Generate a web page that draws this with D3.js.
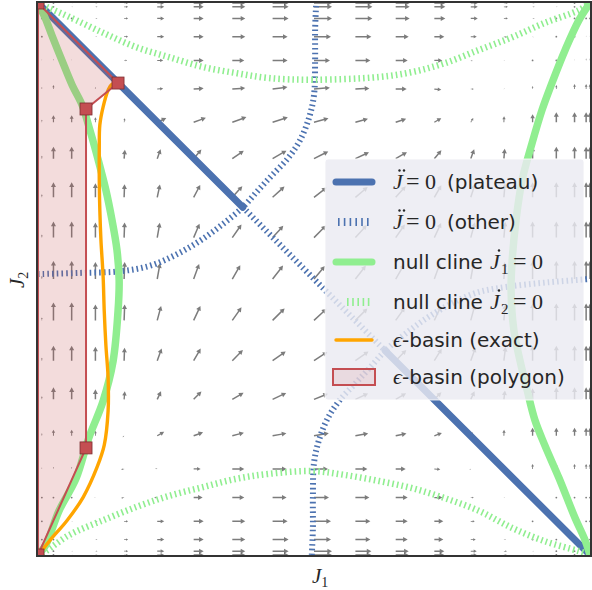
<!DOCTYPE html>
<html>
<head>
<meta charset="utf-8">
<script src="https://cdn.jsdelivr.net/npm/d3@7"></script>
<style>
  html, body { margin: 0; padding: 0; background: #fff; }
  svg { display: block; }
</style>
</head>
<body>
<svg id="chart" width="592" height="590"></svg>
<script>
// ---- data -------------------------------------------------------------
// sample positions of the direction field (same set for J1 and J2)
const gridJ = [0, 0.007, 0.028, 0.061, 0.104, 0.156, 0.216, 0.282, 0.352, 0.425, 0.5,
               0.575, 0.648, 0.718, 0.784, 0.844, 0.896, 0.939, 0.972, 0.993, 1];

// arrow lengths (px) of the direction field, rows from J2 = 1 down to J2 = 0
const arrowLen = [
  [0,0,0.5,1,2,4,7,10,13,16,18,17,14,11,7,4,2,1,0.5,0,0],
  [0,0,0.5,1,2,4,7,10,13,16,18,17,14,11,7,4,2,1,0.5,0,0],
  [0,0,0.3,0.5,2,4,7,10,13,16,18,17,14,11,7,4,2,0.5,0,0,0],
  [0.5,0.5,1,0.5,1.5,4,7,10,13,15,17,16,13,10,6,3,1,0.5,0.5,1,1],
  [1,1,1.5,1,0.5,3,6,10,12,15,16,15,12,8,2,1,0.5,0.5,1,2,2],
  [2,2,4,3,2,0.5,6,10,13,15,16,14,11,7,3,1,3,4,5,5,5],
  [2.5,2.5,7,7,5,4,10,13,15,16,15,13,11,8,5,6,8,10,10,10,10],
  [3,3,12,12,11,9,10,12,14,16,16,15,13,11,10,10,12,12,12,12,12],
  [3,3,15,15,14,13,13,14,15,16,16,16,15,14,14,14,15,15,15,15,15],
  [3,3,16,16,15,15,15,15,16,16,17,17,16,16,16,16,16,16,16,16,16],
  [3,3,18,18,17,17,16,16,16,17,17,17,17,17,17,17,18,18,18,18,18],
  [3,3,18,18,16,16,15,16,16,17,17,17,16,16,16,16,17,17,17,17,17],
  [3,3,15,15,14,13,13,14,15,16,16,16,15,14,14,14,15,15,15,15,15],
  [3,3,12,12,10,8,9,11,13,15,15,14,12,10,9,9,11,12,12,12,12],
  [2.5,2.5,6,6,5,2,8,10,12,14,15,13,11,8,4,6,8,8,8,8,8],
  [1.5,1.5,2,2,1,3,2,7,12,14,14,12,10,6,1.5,4,5,5,5,5,5],
  [0.5,0.5,0.5,0.5,1,3,3,9,12,14,15,14,12,8,3,1,0.5,0.5,0.5,0.5,0.5],
  [0,0,0.5,1,2,4,7,10,13,15,17,15,12,9,4,1,0.5,0,0,0,0],
  [0,0,0.5,1,2,4,7,10,13,16,17,15,12,9,5,2,0.5,0,0,0,0],
  [0,0,0.5,1,2,4,7,10,13,16,18,16,13,10,6,3,1,0.5,0,0,0],
  [0,0,0.5,1,2,4,7,10,13,16,18,16,13,10,6,3,1,0.5,0,0,0]
];

// arrow directions (degrees, counter-clockwise from +J1), same row order
const arrowDir = [
  [0,0,0,0,0,0,0,0,0,0,0,0,0,0,0,0,0,0,0,0,0],
  [0,0,0,0,0,0,0,0,0,0,0,0,0,0,0,0,0,0,0,0,0],
  [0,0,0,0,0,0,0,0,0,0,0,0,0,0,0,0,0,0,0,0,0],
  [90,90,90,90,0,0,0,0,0,0,0,0,0,0,0,-10,-30,0,90,90,90],
  [90,90,90,90,0,0,0,0,0,0,0,0,0,0,-20,-40,0,90,90,90,90],
  [90,90,90,90,90,45,5,5,5,8,5,3,0,-5,0,60,90,90,90,90,90],
  [90,90,90,90,90,80,25,20,20,18,15,15,18,30,60,88,90,90,90,90,90],
  [90,90,90,90,90,85,70,50,35,30,27,25,30,50,70,85,90,90,90,90,90],
  [90,90,90,90,90,88,78,62,48,42,38,40,48,60,72,85,90,90,90,90,90],
  [90,90,90,90,90,88,80,67,55,48,45,48,55,65,75,85,90,90,90,90,90],
  [90,90,90,90,90,88,80,70,60,52,50,52,60,70,80,87,90,90,90,90,90],
  [90,90,90,90,90,88,75,65,55,45,43,45,55,65,75,85,90,90,90,90,90],
  [90,90,90,90,90,88,70,60,45,35,33,35,45,58,70,83,90,90,90,90,90],
  [90,90,90,90,90,85,65,45,30,25,22,25,30,45,65,83,90,90,90,90,90],
  [90,90,90,90,90,225,30,20,15,10,10,10,12,20,60,88,90,90,90,90,90],
  [90,90,90,90,90,190,170,0,0,0,0,0,0,-5,225,90,90,90,90,90,90],
  [90,90,90,90,180,190,180,0,0,0,0,0,0,0,0,0,90,90,90,90,90],
  [0,0,0,0,0,0,0,0,0,0,0,0,0,0,0,0,0,0,0,0,0],
  [0,0,0,0,0,0,0,0,0,0,0,0,0,0,0,0,0,0,0,0,0],
  [0,0,0,0,0,0,0,0,0,0,0,0,0,0,0,0,0,0,0,0,0],
  [0,0,0,0,0,0,0,0,0,0,0,0,0,0,0,0,0,0,0,0,0]
];

// J-double-dot = 0 on the plateau (solid) and elsewhere (dotted)
const plateauUpper = [[0, 1], [0.371, 0.630]];
const plateauLower = [[0.629, 0.370], [1, 0]];
const otherMiddle  = [[0.371, 0.630], [0.629, 0.370]];
const otherArcA = [[0,0.509],[0.076,0.511],[0.149,0.514],[0.203,0.524],[0.248,0.543],[0.293,0.569],
  [0.333,0.598],[0.371,0.630],[0.399,0.661],[0.424,0.688],[0.453,0.719],[0.475,0.752],[0.491,0.792],
  [0.5,0.833],[0.502,0.897],[0.502,0.951],[0.504,1.0]];
const otherArcB = [[0.496,0],[0.498,0.049],[0.498,0.103],[0.5,0.167],[0.509,0.208],[0.525,0.248],
  [0.547,0.281],[0.576,0.312],[0.601,0.339],[0.629,0.370],[0.667,0.402],[0.707,0.431],[0.752,0.457],
  [0.797,0.476],[0.851,0.486],[0.924,0.494],[1,0.500]];

// null clines
const nullJ1Left = [[0,1],[0.013,0.973],[0.025,0.942],[0.043,0.897],[0.062,0.851],[0.080,0.815],
  [0.094,0.770],[0.109,0.716],[0.123,0.661],[0.134,0.607],[0.143,0.553],[0.147,0.498],[0.145,0.442],
  [0.136,0.351],[0.118,0.279],[0.092,0.212],[0.069,0.139],[0.038,0.080],[0.014,0.018],[0,0]];
const nullJ1Right = [[1,1],[0.980,0.969],[0.955,0.915],[0.931,0.855],[0.913,0.806],[0.895,0.746],
  [0.877,0.679],[0.866,0.607],[0.859,0.534],[0.857,0.480],[0.862,0.408],[0.873,0.353],[0.886,0.299],
  [0.900,0.245],[0.918,0.199],[0.944,0.139],[0.973,0.067],[0.991,0.027],[1,0]];
const nullJ2Top = [[0,1],[0.020,0.991],[0.056,0.975],[0.118,0.946],[0.178,0.920],[0.237,0.902],
  [0.299,0.884],[0.359,0.873],[0.418,0.864],[0.498,0.861],[0.618,0.866],[0.678,0.875],[0.737,0.891],
  [0.799,0.915],[0.859,0.938],[0.918,0.964],[0.980,0.987],[1,1]];
const nullJ2Bottom = [[0,0],[0.014,0.007],[0.056,0.036],[0.118,0.063],[0.178,0.087],[0.237,0.107],
  [0.299,0.123],[0.359,0.138],[0.418,0.147],[0.498,0.152],[0.556,0.145],[0.618,0.134],[0.678,0.121],
  [0.737,0.103],[0.799,0.080],[0.859,0.049],[0.918,0.025],[0.980,0.007],[1,0]];

// epsilon-basin: exact boundary and polygon approximation
const basinExact = [[0.145,0.855],[0.134,0.853],[0.127,0.842],[0.118,0.812],[0.112,0.779],
  [0.111,0.734],[0.111,0.679],[0.112,0.625],[0.114,0.571],[0.118,0.504],[0.120,0.442],[0.123,0.380],
  [0.127,0.321],[0.127,0.261],[0.120,0.199],[0.107,0.159],[0.082,0.105],[0.053,0.063],[0.022,0.027],
  [0.004,0.004]];
const basinPolygon = [[0,1],[0.145,0.855],[0.087,0.808],[0.087,0.194],[0,0]];

const legendLabels = ["(plateau)", "(other)", "null cline", "null cline", "-basin (exact)", "-basin (polygon)"];

// ---- layout -----------------------------------------------------------
const svg = d3.select("#chart");
const plot = { left: 38, right: 590, top: 3, bottom: 555 };
const x = d3.scaleLinear().domain([0, 1]).range([plot.left, plot.right]);
const y = d3.scaleLinear().domain([0, 1]).range([plot.bottom, plot.top]);
const arrowScale = d3.scaleLinear().domain([0, 20]).range([0, 20]);

const BLUE = "#4C72B0", GREEN = "#90EE90", ORANGE = "#FFA500", RED = "#C44E52";

svg.append("defs").append("clipPath").attr("id", "plotClip")
  .append("rect").attr("x", plot.left).attr("y", plot.top)
  .attr("width", plot.right - plot.left).attr("height", plot.bottom - plot.top);

const g = svg.append("g").attr("clip-path", "url(#plotClip)");

// ---- direction field ----------------------------------------------------
function arrowPoints(L) {
  const base = 9, hl = 4.6, hh = 2.5, hw = 0.75;
  const Lb = Math.max(L, base);
  const k = Math.min(1, L / base);
  const pts = [[0,-hw],[Lb-hl,-hw],[Lb-hl,-hh],[Lb,0],[Lb-hl,hh],[Lb-hl,hw],[0,hw]];
  return pts.map(p => [p[0]*k, p[1]*k]);
}

const field = [];
arrowLen.forEach((row, r) => {
  row.forEach((len, c) => {
    field.push({ j1: gridJ[c], j2: gridJ[gridJ.length - 1 - r], len, dir: arrowDir[r][c] });
  });
});

const quiver = g.append("g").attr("fill", "#4a4a4a").attr("fill-opacity", 0.72);
field.forEach(d => {
  const px = x(d.j1), py = y(d.j2), L = arrowScale(d.len);
  if (L < 0.6) {
    quiver.append("circle").attr("cx", px).attr("cy", py).attr("r", 0.9);
  } else {
    quiver.append("polygon")
      .attr("points", arrowPoints(L).map(p => p.join(",")).join(" "))
      .attr("transform", `translate(${px},${py}) rotate(${-d.dir})`);
  }
});

// ---- curves ---------------------------------------------------------------
const smooth = d3.line().x(d => x(d[0])).y(d => y(d[1])).curve(d3.curveCatmullRom.alpha(0.5));
const straight = d3.line().x(d => x(d[0])).y(d => y(d[1]));

function drawLine(data, gen, color, width, dash, cap) {
  g.append("path").attr("d", gen(data)).attr("fill", "none")
    .attr("stroke", color).attr("stroke-width", width)
    .attr("stroke-dasharray", dash || null)
    .attr("stroke-linecap", cap || "butt")
    .attr("stroke-linejoin", "round");
}

const DOT = "1.6 3.1";
drawLine(plateauUpper, straight, BLUE, 7, null, "round");
drawLine(plateauLower, straight, BLUE, 7, null, "round");
drawLine(otherMiddle, straight, BLUE, 6, DOT);
drawLine(otherArcA, smooth, BLUE, 6, DOT);
drawLine(otherArcB, smooth, BLUE, 6, DOT);
drawLine(nullJ1Left, smooth, GREEN, 7.5, null, "round");
drawLine(nullJ1Right, smooth, GREEN, 7.5, null, "round");
drawLine(nullJ2Top, smooth, GREEN, 6.5, DOT);
drawLine(nullJ2Bottom, smooth, GREEN, 6.5, DOT);
drawLine(basinExact, smooth, ORANGE, 3.4, null, "round");

// polygon approximation of the basin
g.append("path").attr("d", straight(basinPolygon) + "Z")
  .attr("fill", RED).attr("fill-opacity", 0.2)
  .attr("stroke", RED).attr("stroke-width", 2).attr("stroke-linejoin", "miter");
g.selectAll("rect.vertex").data(basinPolygon).join("rect").attr("class", "vertex")
  .attr("x", d => x(d[0]) - 6).attr("y", d => y(d[1]) - 6)
  .attr("width", 12).attr("height", 12)
  .attr("fill", RED).attr("stroke", "#7d2e31").attr("stroke-width", 0.8);

// frame
svg.append("rect").attr("x", 37).attr("y", 2).attr("width", 554).attr("height", 554)
  .attr("fill", "none").attr("stroke", "#333").attr("stroke-width", 2);

// ---- legend -------------------------------------------------------------
const lg = svg.append("g").attr("transform", "translate(325,159)");
lg.append("rect").attr("width", 259).attr("height", 241).attr("rx", 3)
  .attr("fill", "#EAEAF2").attr("fill-opacity", 0.82)
  .attr("stroke", "#ffffff").attr("stroke-opacity", 0.8);

const rowY = [23, 63, 103, 143, 181, 218];
const hx0 = 11, hx1 = 47;
function handle(i, color, width, dash, cap) {
  lg.append("line").attr("x1", hx0).attr("x2", hx1).attr("y1", rowY[i]).attr("y2", rowY[i])
    .attr("stroke", color).attr("stroke-width", width)
    .attr("stroke-dasharray", dash || null).attr("stroke-linecap", cap || "butt");
}
handle(0, BLUE, 7, null, "round");
lg.append("line").attr("x1", 13).attr("x2", 46).attr("y1", rowY[1]).attr("y2", rowY[1])
  .attr("stroke", BLUE).attr("stroke-width", 8).attr("stroke-dasharray", "1.6 4.2");
handle(2, GREEN, 7, null, "round");
lg.append("line").attr("x1", 22).attr("x2", 46).attr("y1", rowY[3]).attr("y2", rowY[3])
  .attr("stroke", GREEN).attr("stroke-width", 8).attr("stroke-dasharray", "1.6 3.6");
handle(4, ORANGE, 3.4, null, "round");
lg.append("rect").attr("x", 8).attr("y", rowY[5] - 8).attr("width", 42).attr("height", 16)
  .attr("fill", RED).attr("fill-opacity", 0.12).attr("stroke", RED).attr("stroke-width", 2);

const SANS = "'DejaVu Sans', sans-serif";
const SERIF = "'Liberation Serif', 'DejaVu Serif', serif";
const TXT = "#262626";
const tx = 68;

// italic J with one or two accent dots above it
function mathJ(parent, xPos, base, dots) {
  parent.append("text").attr("x", xPos).attr("y", base)
    .attr("font-family", SERIF).attr("font-style", "italic").attr("font-size", 22)
    .attr("fill", TXT).text("J");
  const cx = dots === 2 ? [xPos + 6.5, xPos + 11] : [xPos + 9];
  cx.forEach(c => parent.append("circle").attr("cx", c).attr("cy", base - 18.5)
    .attr("r", 1.2).attr("fill", TXT));
}
function eqZero(parent, xPos, base) {
  parent.append("text").attr("x", xPos).attr("y", base)
    .attr("font-family", SERIF).attr("font-size", 24).attr("fill", TXT).text("=");
  parent.append("text").attr("x", xPos + 19).attr("y", base)
    .attr("font-family", SERIF).attr("font-size", 22).attr("fill", TXT).text("0");
}

// rows 1-2: J double-dot = 0
[0, 1].forEach(i => {
  const b = rowY[i] + 7;
  mathJ(lg, tx, b, 2);
  eqZero(lg, tx + 13, b);
  lg.append("text").attr("x", tx + 54).attr("y", b)
    .attr("font-family", SANS).attr("font-size", 20).attr("fill", TXT).text(legendLabels[i]);
});
// rows 3-4: null clines
[2, 3].forEach(i => {
  const b = rowY[i] + 7;
  lg.append("text").attr("x", tx).attr("y", b)
    .attr("font-family", SANS).attr("font-size", 20).attr("fill", TXT).text(legendLabels[i]);
  mathJ(lg, tx + 97, b, 1);
  lg.append("text").attr("x", tx + 108).attr("y", b + 5)
    .attr("font-family", SERIF).attr("font-size", 15).attr("fill", TXT).text(i === 2 ? "1" : "2");
  eqZero(lg, tx + 120, b);
});
// rows 5-6: epsilon basins
[4, 5].forEach(i => {
  const b = rowY[i] + 7;
  lg.append("text").attr("x", tx).attr("y", b)
    .attr("font-family", SERIF).attr("font-style", "italic").attr("font-size", 22)
    .attr("fill", TXT).text("\u03F5");
  lg.append("text").attr("x", tx + 9).attr("y", b)
    .attr("font-family", SANS).attr("font-size", 20).attr("fill", TXT).text(legendLabels[i]);
});

// ---- axis labels ----------------------------------------------------------
const xl = svg.append("text").attr("x", 312).attr("y", 583)
  .attr("font-family", SERIF).attr("font-size", 21).attr("fill", TXT);
xl.append("tspan").attr("font-style", "italic").text("J");
xl.append("tspan").attr("font-size", 14).attr("dy", 4).text("1");

const yl = svg.append("text").attr("transform", "translate(24,288) rotate(-90)")
  .attr("font-family", SERIF).attr("font-size", 21).attr("fill", TXT);
yl.append("tspan").attr("font-style", "italic").text("J");
yl.append("tspan").attr("font-size", 14).attr("dy", 4).text("2");
</script>
</body>
</html>
